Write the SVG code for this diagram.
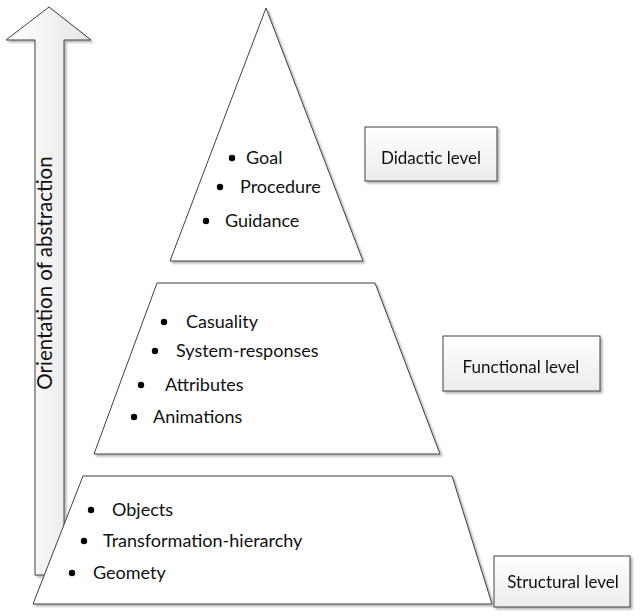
<svg xmlns="http://www.w3.org/2000/svg" width="641" height="616" viewBox="0 0 641 616">
  <defs>
    <linearGradient id="boxg" x1="0" y1="0" x2="0" y2="1">
      <stop offset="0" stop-color="#ffffff"/>
      <stop offset="1" stop-color="#ececec"/>
    </linearGradient>
    <linearGradient id="arrg" x1="0" y1="0" x2="1" y2="0">
      <stop offset="0" stop-color="#ffffff"/>
      <stop offset="1" stop-color="#e6e6e6"/>
    </linearGradient>
    <filter id="sh" x="-10%" y="-10%" width="130%" height="130%">
      <feGaussianBlur in="SourceAlpha" stdDeviation="1.2"/>
      <feOffset dx="2" dy="2" result="b"/>
      <feComponentTransfer><feFuncA type="linear" slope="0.3"/></feComponentTransfer>
      <feMerge><feMergeNode/><feMergeNode in="SourceGraphic"/></feMerge>
    </filter>
  </defs>
  <style>
    .shape { fill: #ffffff; stroke: #404040; stroke-width: 1; }
    .box { fill: url(#boxg); stroke: #404040; stroke-width: 1; }
    .t { font-family: Lato, "Open Sans", "Liberation Sans", sans-serif; font-size: 18px; fill: #111111; }
    .lbl { font-size: 17px; }
    .c { text-anchor: middle; }
    .dot { fill: #000000; }
  </style>
  <rect width="641" height="616" fill="#ffffff"/>

  <g id="connectors">
    <g id="abstraction-arrow" filter="url(#sh)">
      <polygon class="shape" style="fill:url(#arrg)" points="49,7 91,40 64,40 64,575 35,575 35,40 6,40"/>
    </g>
    <text class="t c" transform="translate(52,273) rotate(-90)" style="font-size:20.5px">Orientation of abstraction</text>
  </g>

  <g id="didactic-pyramid" filter="url(#sh)">
    <polygon class="shape" points="266,8 363,261 170,261"/>
  </g>
  <g id="didactic-items">
    <circle class="dot" cx="232" cy="158" r="3.2"/>
    <text class="t" x="246" y="164">Goal</text>
    <circle class="dot" cx="220" cy="187" r="3.2"/>
    <text class="t" x="240" y="193">Procedure</text>
    <circle class="dot" cx="206" cy="221" r="3.2"/>
    <text class="t" x="225" y="227">Guidance</text>
  </g>

  <g id="functional-pyramid" filter="url(#sh)">
    <polygon class="shape" points="157,283 375,283 440,454 94,454"/>
  </g>
  <g id="functional-items">
    <circle class="dot" cx="164" cy="322" r="3.2"/>
    <text class="t" x="186" y="328">Casuality</text>
    <circle class="dot" cx="155" cy="351" r="3.2"/>
    <text class="t" x="176" y="357">System-responses</text>
    <circle class="dot" cx="141" cy="385" r="3.2"/>
    <text class="t" x="165" y="391">Attributes</text>
    <circle class="dot" cx="134" cy="417" r="3.2"/>
    <text class="t" x="153" y="423">Animations</text>
  </g>

  <g id="structural-pyramid" filter="url(#sh)">
    <polygon class="shape" points="83,476 452,476 492,604 33,604"/>
  </g>
  <g id="structural-items">
    <circle class="dot" cx="91" cy="510" r="3.2"/>
    <text class="t" x="112" y="516">Objects</text>
    <circle class="dot" cx="84" cy="541" r="3.2"/>
    <text class="t" x="103" y="547">Transformation-hierarchy</text>
    <circle class="dot" cx="72" cy="573" r="3.2"/>
    <text class="t" x="93" y="579">Geomety</text>
  </g>

  <g id="didactic-level" filter="url(#sh)">
    <rect class="box" x="365" y="127" width="132" height="54"/>
    <text class="t lbl c" x="431" y="164">Didactic level</text>
  </g>
  <g id="functional-level" filter="url(#sh)">
    <rect class="box" x="443" y="336" width="157" height="55"/>
    <text class="t lbl c" x="521" y="373">Functional level</text>
  </g>
  <g id="structural-level" filter="url(#sh)">
    <rect class="box" x="494" y="556" width="136" height="51"/>
    <text class="t lbl c" x="563" y="588">Structural level</text>
  </g>
</svg>
